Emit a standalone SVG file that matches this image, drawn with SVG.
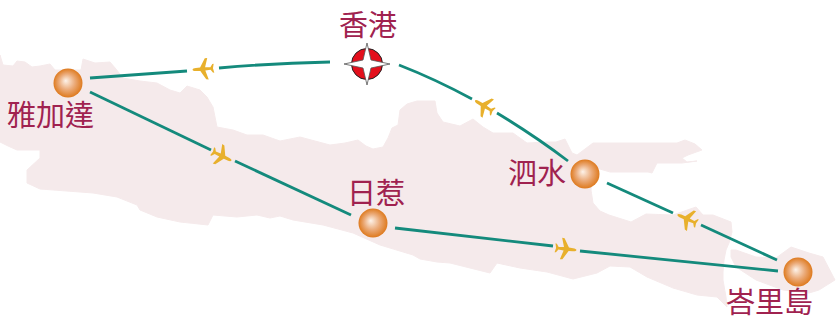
<svg xmlns="http://www.w3.org/2000/svg" width="836" height="320" viewBox="0 0 836 320">
<defs>
<radialGradient id="ball" cx="50%" cy="50%" r="50%" fx="42%" fy="42%">
<stop offset="0" stop-color="#fdf3ea"/>
<stop offset="0.55" stop-color="#ebaa78"/>
<stop offset="1" stop-color="#de7a1e"/>
</radialGradient>
<filter id="soft" x="-2%" y="-2%" width="104%" height="104%"><feGaussianBlur stdDeviation="0.7"/></filter>
<path id="plane" d="M10.5 0C10.5 -1 9 -1.6 7 -1.6L2.8 -1.7L-2.5 -10.5L-5 -10.8L-2.2 -1.7L-7.5 -1.3L-9.6 -4.3L-11 -4.5L-10 0L-11 4.5L-9.6 4.3L-7.5 1.3L-2.2 1.7L-5 10.8L-2.5 10.5L2.8 1.7L7 1.6C9 1.6 10.5 1 10.5 0Z"/>
</defs>
<style>
.land{fill:#f5eaeb;stroke:#f5eaeb;stroke-width:1;stroke-linejoin:round}
.route{fill:none;stroke:#148a7c;stroke-width:2.8}
.plane{fill:#e8b02c}
.city{fill:url(#ball)}
.label{font-family:"Noto Sans CJK TC","Noto Sans CJK SC",sans-serif;font-size:29px;fill:#a0224f}
</style>
<g id="land" filter="url(#soft)">
<path class="land" d="M0 55L3 65L13 66L17 61L25 62L32 67L40 66L50 64L55 70L81 70L83 59L95 63L110 62L116 69L123 78L140 81L157 83L170 90L180 93L187 86L200 90L207 97L213 107L217 127L233 130L247 135L263 135L280 141L300 137L315 141L330 145L345 143L358 140L366 146L373 149L383 147L388 138L392 128L398 125L400 110L407 104L417 101L435 101L437 113L443 122L460 126L473 119L483 127L493 133L513 133L527 143L547 142L556 142L565 139L572 153L577 155L593 143L677 143L685 140L695 144L702 150L688 155L682 158L687 162L697 161L682 163L657 163L652 173L648 172L610 172L593 167L591 190L593 203L600 211L609 215L631 222L646 214L673 215L696 207L703 215L713 215L731 222L732 232L729 243L726 250L724 260L723 272L723 280L726 297L727 307L717 297L697 295L673 288L647 277L630 267L610 266L597 273L573 279L547 272L520 268L497 263L490 273L470 268L450 263L437 262L420 259L413 255L380 245L353 233L323 225L293 220L280 216L270 218L257 215L237 217L213 215L208 225L180 222L157 217L140 210L137 205L117 197L93 193L40 189L27 183L27 170L40 158L40 150L28 150L17 150L8 146L0 142Z"/>
<path class="land" d="M731 250L736 250L756 257L776 258L791 247L809 253L823 257L835 280L819 290L809 293L783 290L756 280L736 267L731 257Z"/>
</g>
<g id="connectors">
<path class="route" d="M90 78L187 71"/>
<path class="route" d="M219 68Q275 63 330 62"/>
<path class="route" d="M90 92L211 150"/>
<path class="route" d="M235 161L351 215"/>
<path class="route" d="M395 228L553 246"/>
<path class="route" d="M580 251L778 271"/>
<path class="route" d="M399 65Q435 79 472 99"/>
<path class="route" d="M497 113Q535 136 568 161"/>
<path class="route" d="M607 183L673 213"/>
<path class="route" d="M701 225L777 260"/>
</g>
<g id="planes">
<use href="#plane" class="plane" transform="translate(203 69) rotate(176)"/>
<use href="#plane" class="plane" transform="translate(222 156) rotate(26)"/>
<use href="#plane" class="plane" transform="translate(484 106) rotate(212)"/>
<use href="#plane" class="plane" transform="translate(566 249) rotate(6)"/>
<use href="#plane" class="plane" transform="translate(687 219) rotate(205)"/>
</g>
<g id="hongkong">
<circle cx="367" cy="64" r="15.5" fill="#e30f1c" stroke="#222" stroke-width="1"/>
<path d="M367 43L371 60L390 64L371 68L367 85L363 68L344 64L363 60Z" fill="#fff" stroke="#555" stroke-width="0.8"/>
<text class="label" x="339" y="36">香港</text>
</g>
<g id="jakarta">
<circle class="city" cx="68" cy="83" r="14.5"/>
<text class="label" x="7" y="126">雅加達</text>
</g>
<g id="yogyakarta">
<circle class="city" cx="373" cy="223" r="14.5"/>
<text class="label" x="347" y="204">日惹</text>
</g>
<g id="surabaya">
<circle class="city" cx="585" cy="174" r="14.5"/>
<text class="label" x="508" y="184">泗水</text>
</g>
<g id="bali">
<circle class="city" cx="798" cy="272" r="14.5"/>
<text class="label" x="726" y="313">峇里島</text>
</g>
</svg>
